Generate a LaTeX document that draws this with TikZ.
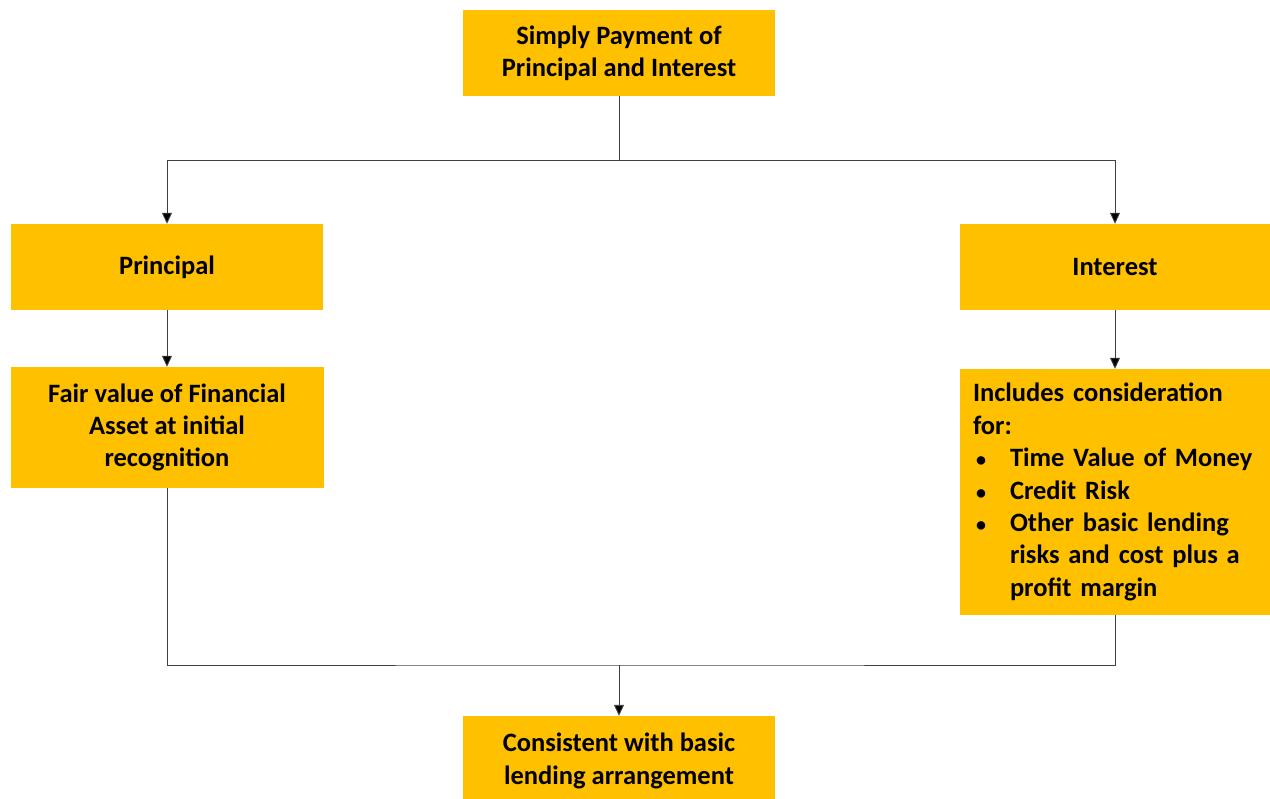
\documentclass[tikz,border=0pt]{standalone}
\usepackage{fontspec}
\setmainfont{Carlito}
\usetikzlibrary{arrows.meta}
\definecolor{gold}{HTML}{FFC000}
\definecolor{lin}{HTML}{404040}
\newcommand{\bul}{\makebox[37pt][l]{\hspace*{3pt}{\fontsize{20}{20}\selectfont •}}}
\tikzset{
  box/.style={fill=gold, draw=none, inner sep=0pt, align=center,
    font=\bfseries\fontsize{26.5}{32.4}\selectfont},
  conn/.style={draw=lin, line width=0.9pt},
  arr/.style={conn, -{Triangle[width=10pt,length=11pt,fill=black]}}
}
\begin{document}
\begin{tikzpicture}[x=1pt,y=-1pt]
\useasboundingbox (0,0) rectangle (1270,799);
\clip (0,0) rectangle (1270,799);
\node[box, minimum width=312pt, minimum height=86pt] (top) at (619,53) {Simply Payment of\\Principal and Interest};
\node[box, minimum width=312pt, minimum height=86pt] (prin) at (167,267) {Principal};
\node[box, minimum width=310pt, minimum height=86pt] (int) at (1115,267) {Interest};
\node[box, minimum width=313pt, minimum height=121pt] (fair) at (167,427.5) {Fair value of Financial\\Asset at initial\\recognition};
\node[box, minimum width=310pt, minimum height=246pt, align=left, text width=284pt] (inc) at (1115,492) {\raggedright Includes consideration\\for:\\\bul Time Value of Money\\\bul Credit Risk\\\bul Other basic lending\\\hspace*{37pt}risks and cost plus a\\\hspace*{37pt}profit margin};
\node[box, minimum width=312pt, minimum height=90pt] (bot) at (619,761) {Consistent with basic\\lending arrangement};
\coordinate (j1) at (619,160);
\coordinate (j2) at (619,665);
\draw[conn] (top.south) -- (j1);
\draw[arr] (j1) -| (prin.north);
\draw[arr] (j1) -| (int.north);
\draw[arr] (prin.south) -- (fair.north);
\draw[arr] (int.south) -- (inc.north);
\draw[conn] (fair.south) |- (j2) -| (inc.south);
\draw[arr] (j2) -- (bot.north);
\end{tikzpicture}
\end{document}
